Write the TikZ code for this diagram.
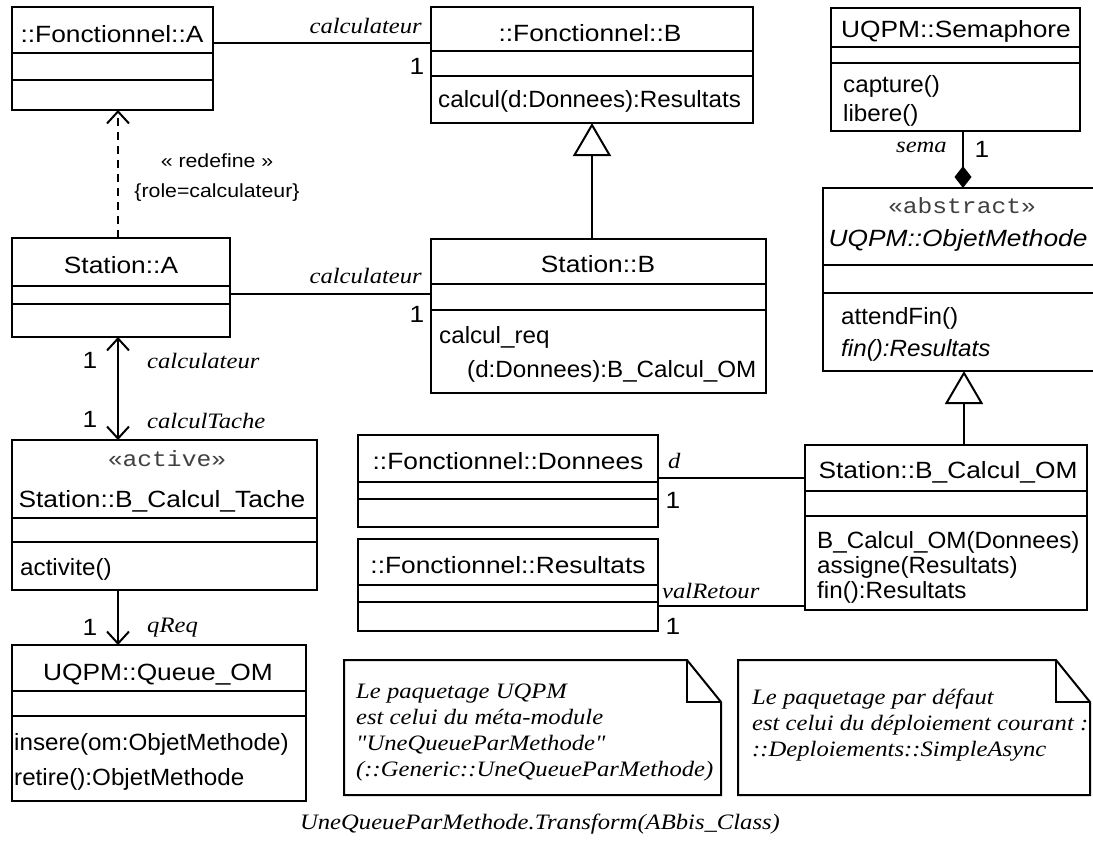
\documentclass[tikz,border=0pt]{standalone}
\usepackage{fontspec}
\setmainfont{Liberation Sans}[FakeStretch=1.12]
\newfontfamily\opsfont{Liberation Sans}[FakeStretch=1.03]
\newfontfamily\rolefont{Liberation Serif}[FakeStretch=1.12]
\newfontfamily\stereofont{Liberation Mono}[FakeStretch=1.12]
\usepackage{tikz}
\usetikzlibrary{arrows.meta,positioning}

% class box with three compartments: name, x, y, width, h(title), h(attributes), h(operations)
\newcommand{\umlclass}[7]{%
  \node[classbox, minimum width=#4pt, minimum height={#5pt+#6pt+#7pt}] (#1) at (#2,#3) {};
  \draw[assoc] ([yshift=-#5pt]#1.north west) -- ([yshift=-#5pt]#1.north east);
  \draw[assoc] ([yshift=-#5pt-#6pt]#1.north west) -- ([yshift=-#5pt-#6pt]#1.north east);
}

\begin{document}
\begin{tikzpicture}[x=1pt, y=-1pt,
    assoc/.style={line width=2pt},
    classbox/.style={draw, line width=2pt, inner sep=0pt, outer sep=0pt, anchor=north west},
    notebox/.style={inner sep=0pt, outer sep=0pt, anchor=north west},
    clsname/.style={font=\fontsize{23.5}{26}\selectfont, inner sep=0pt, anchor=base},
    clsitalic/.style={font=\fontsize{23.5}{26}\selectfont\itshape, inner sep=0pt, anchor=base},
    ops/.style={font=\opsfont\fontsize{23.5}{26}\selectfont, inner sep=0pt, anchor=base west},
    stereo/.style={font=\stereofont\fontsize{22}{26}\selectfont, text=black!75, inner sep=0pt, anchor=base},
    role/.style={font=\rolefont\itshape\fontsize{22}{25}\selectfont, inner sep=0pt},
    mult/.style={font=\fontsize{23.5}{26}\selectfont, inner sep=0pt, anchor=base},
    constraint/.style={font=\fontsize{19}{22}\selectfont, inner sep=0pt, anchor=base},
    memo/.style={font=\rolefont\itshape\fontsize{22}{25}\selectfont, inner sep=0pt, anchor=base west},
    barb/.tip={Straight Barb[length=12pt,width=22pt]},
    gen/.tip={Triangle[open,length=33pt,width=38pt]},
    comp/.tip={Diamond[length=22pt,width=17pt]}]

    \useasboundingbox (0,0) rectangle (1093,847);

    % Classes
    \umlclass{fA}{12}{7}{201}{46}{27}{30}
    \umlclass{fB}{431}{7}{322}{44}{25}{47}
    \umlclass{sem}{831}{8}{249}{39}{16}{68}
    \umlclass{om}{823}{188}{280}{77}{28}{78}
    \umlclass{sA}{12}{238}{218}{48}{18}{33}
    \umlclass{sB}{431}{239}{335}{45}{26}{83}
    \umlclass{tache}{12}{440}{305}{78}{24}{48}
    \umlclass{queue}{12}{645}{294}{46}{25}{85}
    \umlclass{donnees}{358}{435}{300}{47}{17}{28}
    \umlclass{resultats}{358}{539}{300}{46}{17}{29}
    \umlclass{calcOM}{805}{445}{282}{46}{25}{94}

    % Class names
    \node[clsname] (fAname) at (112,42) {::Fonctionnel::A};
    \node[clsname] (fBname) at (590,41) {::Fonctionnel::B};
    \node[clsname] (semname) at (956,37) {UQPM::Semaphore};
    \node[stereo] (omstereo) at (962,213) {«abstract»};
    \node[clsitalic] (omname) at (958,246) {UQPM::ObjetMethode};
    \node[clsname] (sAname) at (121,273) {Station::A};
    \node[clsname] (sBname) at (598,272) {Station::B};
    \node[stereo] (tachestereo) at (167,466) {«active»};
    \node[clsname] (tachename) at (162,507) {Station::B\_Calcul\_Tache};
    \node[clsname] (queuename) at (158,680) {UQPM::Queue\_OM};
    \node[clsname] (donneesname) at (508,469) {::Fonctionnel::Donnees};
    \node[clsname] (resultatsname) at (508,573) {::Fonctionnel::Resultats};
    \node[clsname] (calcOMname) at (948,478) {Station::B\_Calcul\_OM};

    % Operations
    \node[ops] (fBop) at (438,107) {calcul(d:Donnees):Resultats};
    \node[ops] (semop1) at (843,92) {capture()};
    \node[ops] (semop2) at (843,121) {libere()};
    \node[ops] (omop1) at (841,324) {attendFin()};
    \node[ops, font=\opsfont\fontsize{23.5}{26}\selectfont\itshape] (omop2) at (841,356) {fin():Resultats};
    \node[ops] (sBop1) at (439,343) {calcul\_req};
    \node[ops] (sBop2) at (467,377) {(d:Donnees):B\_Calcul\_OM};
    \node[ops] (tacheop) at (20,575) {activite()};
    \node[ops] (queueop1) at (14,750) {insere(om:ObjetMethode)};
    \node[ops] (queueop2) at (14,785) {retire():ObjetMethode};
    \node[ops] (calcOMop1) at (817,548) {B\_Calcul\_OM(Donnees)};
    \node[ops] (calcOMop2) at (817,573) {assigne(Resultats)};
    \node[ops] (calcOMop3) at (817,598) {fin():Resultats};

    % Associations
    \draw[assoc] ([yshift=-36pt]fA.north east) coordinate (fAend) -- (fAend -| fB.west);
    \draw[assoc] ([yshift=-56pt]sA.north east) coordinate (sAend) -- (sAend -| sB.west);
    \draw[assoc] ([yshift=-43pt]donnees.north east) coordinate (dEnd) -- (dEnd -| calcOM.west);
    \draw[assoc] ([yshift=-67pt]resultats.north east) coordinate (rEnd) -- (rEnd -| calcOM.west);
    \draw[assoc, barb-barb] ([xshift=106pt]sA.south west) coordinate (sAlow) -- (sAlow |- tache.north);
    \draw[assoc, -barb] ([xshift=106pt]tache.south west) coordinate (tacheLow) -- (tacheLow |- queue.north);

    % Redefinition, generalizations, composition
    \draw[assoc, dash pattern=on 8pt off 6pt, -barb] ([xshift=106pt]sA.north west) coordinate (sAtop) -- (sAtop |- fA.south);
    \draw[assoc, -gen] ([xshift=161pt]sB.north west) coordinate (sBtop) -- (sBtop |- fB.south);
    \draw[assoc, -gen] ([xshift=159pt]calcOM.north west) coordinate (cOMtop) -- (cOMtop |- om.south);
    \draw[assoc, -comp] ([xshift=132pt]sem.south west) coordinate (semLow) -- (semLow |- om.north);

    % Roles and multiplicities
    \node[role, anchor=base east] (roleA) at (422,33) {calculateur};
    \node[mult] (multA) at (417,74) {1};
    \node[role, anchor=base east] (roleB) at (422,283) {calculateur};
    \node[mult] (multB) at (417,322) {1};
    \node[mult] (multSA) at (90,368) {1};
    \node[role, anchor=base west] (roleSA) at (147,368) {calculateur};
    \node[mult] (multT) at (90,427) {1};
    \node[role, anchor=base west] (roleT) at (147,428) {calculTache};
    \node[mult] (multQ) at (90,635) {1};
    \node[role, anchor=base west] (roleQ) at (147,632) {qReq};
    \node[role, anchor=base east] (roleSem) at (947,152) {sema};
    \node[mult] (multSem) at (982,157) {1};
    \node[role, anchor=base west] (roleD) at (668,468) {d};
    \node[mult] (multD) at (673,508) {1};
    \node[role, anchor=base west] (roleR) at (662,598) {valRetour};
    \node[mult] (multR) at (673,634) {1};

    % Redefinition label
    \node[constraint] (redef) at (217,167) {« redefine »};
    \node[constraint] (redefrole) at (217,197) {\{role=calculateur\}};

    % Notes
    \node[notebox, minimum width=377pt, minimum height=135pt] (note1) at (344,660) {};
    \node[notebox, minimum width=352pt, minimum height=135pt] (note2) at (738,660) {};
    \foreach \n in {note1,note2} {
        \draw[assoc] (\n.north west) -- ([xshift=-34pt]\n.north east) -- ([yshift=-42pt]\n.north east)
            -- (\n.south east) -- (\n.south west) -- cycle;
        \draw[assoc] ([xshift=-34pt]\n.north east) -- ([xshift=-34pt,yshift=-42pt]\n.north east)
            -- ([yshift=-42pt]\n.north east);
    }
    \foreach \txt [count=\i] in {Le paquetage UQPM, est celui du méta-module, "UneQueueParMethode", (::Generic::UneQueueParMethode)}
        \node[memo] (note1l\i) at (356,672+26*\i) {\txt};
    \foreach \txt [count=\i] in {Le paquetage par défaut, est celui du déploiement courant :, ::Deploiements::SimpleAsync}
        \node[memo] (note2l\i) at (752,678+26*\i) {\txt};

    % Caption
    \node[memo, anchor=base] (caption) at (540,829) {UneQueueParMethode.Transform(ABbis\_Class)};
\end{tikzpicture}
\end{document}
